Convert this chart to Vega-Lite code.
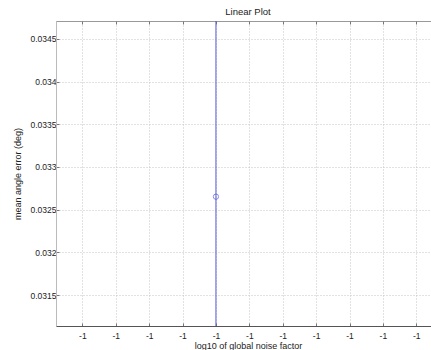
{
  "$schema": "https://vega.github.io/schema/vega-lite/v6.json",
  "autosize": {"type": "none"},
  "padding": {"left": 56, "top": 21, "right": 0, "bottom": 24},
  "width": 384,
  "height": 305,
  "background": "white",
  "title": {"text": "Linear Plot", "font": "Liberation Sans", "fontSize": 9.5, "fontWeight": "normal", "color": "#222", "offset": 4, "anchor": "middle"},
  "config": {
    "view": {"stroke": "#999", "strokeWidth": 1},
    "axis": {
      "labelFont": "Liberation Sans", "labelFontSize": 8.5, "labelColor": "#222",
      "titleFont": "Liberation Sans", "titleFontSize": 9, "titleFontWeight": "normal", "titleColor": "#222",
      "gridColor": "#c4c4c4", "gridDash": [1, 2], "gridWidth": 1, "gridOpacity": 1,
      "tickColor": "#777", "tickSize": -3, "domainColor": "#777"
    }
  },
  "data": {"values": [{"noise": -1, "err": 0.032652}]},
  "layer": [
    {
      "mark": {"type": "rule", "color": "#5a5ad8", "strokeWidth": 1},
      "encoding": {
        "x": {"field": "noise", "type": "quantitative",
          "scale": {"domain": [-1.0000479, -0.9999329], "nice": false, "zero": false},
          "axis": {"title": "log10 of global noise factor", "values": [-1.00004, -1.00003, -1.00002, -1.00001, -1, -0.99999, -0.99998, -0.99997, -0.99996, -0.99995, -0.99994],
            "labelExpr": "replace(format(datum.value, '.0f'), '\u2212', '-')", "labelPadding": 8, "titlePadding": 2, "domainColor": "#555"}}
      }
    },
    {
      "mark": {"type": "point", "shape": "circle", "filled": false, "color": "#5a5ad8", "size": 28, "strokeWidth": 1},
      "encoding": {
        "x": {"field": "noise", "type": "quantitative",
          "scale": {"domain": [-1.0000479, -0.9999329], "nice": false, "zero": false},
          "axis": {"orient": "top", "title": null, "labels": false, "grid": false, "values": [-1.00004, -1.00003, -1.00002, -1.00001, -1, -0.99999, -0.99998, -0.99997, -0.99996, -0.99995, -0.99994], "domain": false}},
        "y": {"field": "err", "type": "quantitative",
          "scale": {"domain": [0.031137, 0.03471], "nice": false, "zero": false},
          "axis": {"title": "mean angle error (deg)", "values": [0.0315, 0.032, 0.0325, 0.033, 0.0335, 0.034, 0.0345], "format": "~g", "labelPadding": 3, "titlePadding": 8, "domainColor": "#bbb"}}
      }
    }
  ],
  "resolve": {"axis": {"x": "independent"}}
}
